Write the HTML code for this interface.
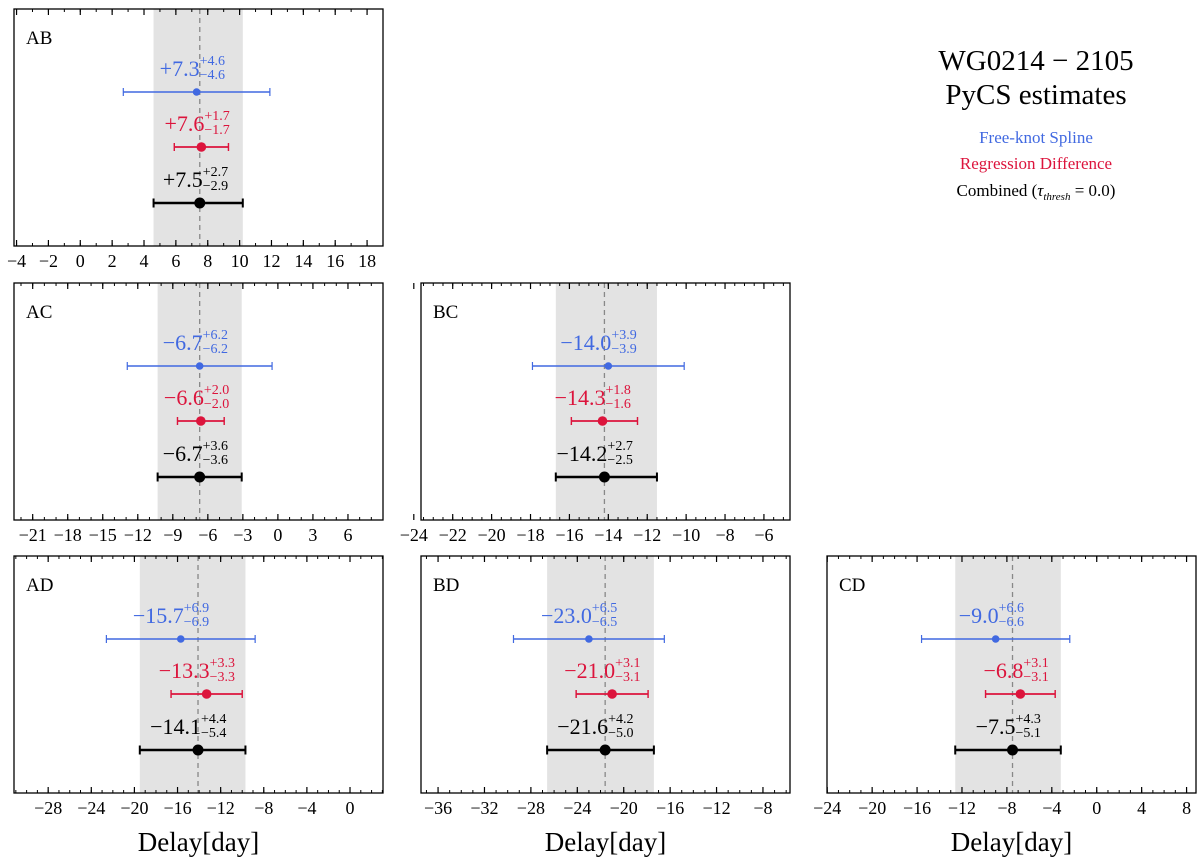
<!DOCTYPE html>
<html><head><meta charset="utf-8"><style>
html,body{margin:0;padding:0;background:#fff}
svg{display:block;font-family:"Liberation Serif",serif}
</style></head><body>
<svg id="chart" width="1200" height="865" viewBox="0 0 1200 865">
<g>
<text x="1036" y="70" font-size="29" text-anchor="middle">WG0214 − 2105</text>
<text x="1036" y="104" font-size="29" text-anchor="middle">PyCS estimates</text>
<text x="1036" y="143" font-size="17" fill="#4169E1" text-anchor="middle">Free-knot Spline</text>
<text x="1036" y="169" font-size="17" fill="#DC143C" text-anchor="middle">Regression Difference</text>
<text x="1036" y="196" font-size="17" fill="#000" text-anchor="middle">Combined (<tspan font-style="italic">τ</tspan><tspan font-size="11" dy="4" font-style="italic">thresh</tspan><tspan dy="-4"> = 0.0)</tspan></text>
</g>
</svg>
<script>
const panelNames = ["AB","AC","BC","AD","BD","CD"];
const splineVal = [7.3,-6.7,-14.0,-15.7,-23.0,-9.0];
const splinePlus = [4.6,6.2,3.9,6.9,6.5,6.6];
const splineMinus = [4.6,6.2,3.9,6.9,6.5,6.6];
const regVal = [7.6,-6.6,-14.3,-13.3,-21.0,-6.8];
const regPlus = [1.7,2.0,1.8,3.3,3.1,3.1];
const regMinus = [1.7,2.0,1.6,3.3,3.1,3.1];
const combVal = [7.5,-6.7,-14.2,-14.1,-21.6,-7.5];
const combPlus = [2.7,3.6,2.7,4.4,4.2,4.3];
const combMinus = [2.9,3.6,2.5,5.4,5.0,5.1];
const tickLists = [
 [-4,-2,0,2,4,6,8,10,12,14,16,18],
 [-21,-18,-15,-12,-9,-6,-3,0,3,6],
 [-24,-22,-20,-18,-16,-14,-12,-10,-8,-6],
 [-28,-24,-20,-16,-12,-8,-4,0],
 [-36,-32,-28,-24,-20,-16,-12,-8],
 [-24,-20,-16,-12,-8,-4,0,4,8]];
const domains = [[-4.16,19.0],[-22.6,9.0],[-23.63,-4.66],[-31.17,3.06],[-37.47,-5.67],[-24.02,8.84]];
const minorStep = [1,1,0.5,1,1,1];
const boxes = [[14,9],[14,283],[421,283],[14,556],[421,556],[827,556]];
const W=369,H=237;
const NS="http://www.w3.org/2000/svg";
const svg=document.getElementById('chart');
function mk(tag,attrs,parent){const e=document.createElementNS(NS,tag);for(const k in attrs)e.setAttribute(k,attrs[k]);parent.appendChild(e);return e;}
function fmt(v){return (v<0?"−":"+")+Math.abs(v).toFixed(1);}
function fmtT(v){return v<0?"−"+Math.abs(v):""+v;}
panelNames.forEach((nm,i)=>{
 const [bx,by]=boxes[i];const [d0,d1]=domains[i];
 const sx=v=>bx+(v-d0)/(d1-d0)*W;
 const g=mk('g',{},svg);
 
 
 const band=mk('rect',{x:sx(combVal[i]-combMinus[i]),y:by,width:sx(combVal[i]+combPlus[i])-sx(combVal[i]-combMinus[i]),height:H,fill:'#e3e3e3'},g);
 
 
 const dl=mk('line',{x1:sx(combVal[i]),x2:sx(combVal[i]),y1:by,y2:by+H,stroke:'#888','stroke-width':1.3,'stroke-dasharray':'5,4'},g);
 
 
 const fr=mk('rect',{x:bx,y:by,width:W,height:H,fill:'none',stroke:'#000','stroke-width':1.3},g);
 
 
 const lab=mk('text',{x:bx+12,y:by+35,'font-size':19},g);lab.textContent=nm;
 
 
 const st=minorStep[i];
 for(let v=Math.ceil(d0/st)*st;v<=d1;v+=st){
  const t=mk('line',{x1:sx(v),x2:sx(v),y1:by+H,y2:by+H-3,stroke:'#000','stroke-width':1},g);
  
  
  const t2=mk('line',{x1:sx(v),x2:sx(v),y1:by,y2:by+3,stroke:'#000','stroke-width':1},g);
  
  
 }
 tickLists[i].forEach(v=>{
  const t=mk('line',{x1:sx(v),x2:sx(v),y1:by+H,y2:by+H-6,stroke:'#000','stroke-width':1.2},g);
  
  
  const t2=mk('line',{x1:sx(v),x2:sx(v),y1:by,y2:by+6,stroke:'#000','stroke-width':1.2},g);
  
  
  const tl=mk('text',{x:sx(v),y:by+H+21,'font-size':18,'text-anchor':'middle'},g);tl.textContent=fmtT(v);
  
  
 });
 const series=[
  ['spline',splineVal[i],splinePlus[i],splineMinus[i],'#4169E1',83,1.5,3.8,8],
  ['regdiff',regVal[i],regPlus[i],regMinus[i],'#DC143C',138,1.8,4.8,8],
  ['combined',combVal[i],combPlus[i],combMinus[i],'#000',194,2.5,5.5,9]];
 series.forEach(([sn,v,p,m,c,oy,sw,r,cap])=>{
  const y=by+oy;
  const sg=mk('g',{},g);
  
  
  mk('line',{x1:sx(v-m),x2:sx(v+p),y1:y,y2:y,stroke:c,'stroke-width':sw},sg);
  mk('line',{x1:sx(v-m),x2:sx(v-m),y1:y-cap/2,y2:y+cap/2,stroke:c,'stroke-width':sw*0.8},sg);
  mk('line',{x1:sx(v+p),x2:sx(v+p),y1:y-cap/2,y2:y+cap/2,stroke:c,'stroke-width':sw*0.8},sg);
  mk('circle',{cx:sx(v),cy:y,r:r,fill:c},sg);
  const x=sx(v);
  const t=mk('text',{x:x+3,y:y-16,'font-size':22,fill:c,'text-anchor':'end'},sg);t.textContent=fmt(v);
  
  
  const s1=mk('text',{x:x+3,y:y-27,'font-size':14,fill:c},sg);s1.textContent="+"+p.toFixed(1);
  
  
  const s2=mk('text',{x:x+3,y:y-13,'font-size':14,fill:c},sg);s2.textContent="−"+m.toFixed(1);
  
  
 });
 if(by>500){
  const xl=mk('text',{x:bx+W/2,y:851,'font-size':27,'text-anchor':'middle'},g);xl.textContent="Delay[day]";
  
  
 }
});
</script>
</body></html>
